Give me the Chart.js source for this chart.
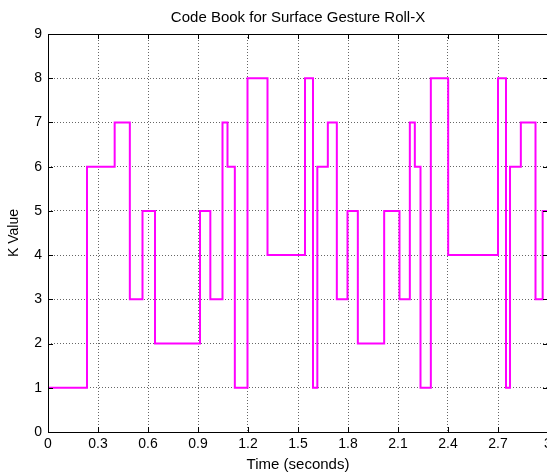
<!DOCTYPE html>
<html>
<head>
<meta charset="utf-8">
<script src="https://cdn.jsdelivr.net/npm/chart.js@4/dist/chart.umd.min.js"></script>
<style>
  html, body { margin: 0; padding: 0; background: #fff; overflow: hidden; }
  #wrap { width: 560px; height: 476px; }
</style>
</head>
<body>
<div id="wrap"><canvas id="codeBook" width="560" height="476"></canvas></div>
<script>
// start time of each code-book step (seconds) and its K value
const stepTimes = [0, 0.234, 0.400, 0.491, 0.567, 0.642, 0.912, 0.974, 1.047, 1.077, 1.121,
  1.197, 1.317, 1.542, 1.590, 1.616, 1.679, 1.733, 1.797, 1.859, 2.017,
  2.109, 2.171, 2.201, 2.235, 2.297, 2.401, 2.700, 2.748, 2.772, 2.837, 2.925, 2.968]
const kValues = [1, 6, 7, 3, 5, 2, 5, 3, 7, 6, 1,
  8, 4, 8, 1, 6, 7, 3, 5, 2, 5,
  3, 7, 6, 1, 8, 4, 8, 1, 6, 7, 3, 5]
const endTime = 3
const xTicks = [0, 0.3, 0.6, 0.9, 1.2, 1.5, 1.8, 2.1, 2.4, 2.7, 3]
const yTicks = [0, 1, 2, 3, 4, 5, 6, 7, 8, 9]

const points = stepTimes.map((t, i) => ({ x: t, y: kValues[i] }))
points.push({ x: endTime, y: kValues[kValues.length - 1] })

Chart.defaults.font.family = "'Liberation Sans', Arial, sans-serif"
Chart.defaults.font.size = 14
Chart.defaults.color = '#000'

// matlab style box with inward tick marks
const boxTicks = {
  id: 'boxTicks',
  afterDraw(chart) {
    const { ctx, chartArea: a, scales } = chart
    ctx.save()
    ctx.strokeStyle = '#000'
    ctx.lineWidth = 1
    ctx.beginPath()
    scales.x.ticks.forEach((t) => {
      const px = Math.round(scales.x.getPixelForValue(t.value)) + 0.5
      ctx.moveTo(px, a.bottom); ctx.lineTo(px, a.bottom - 5)
      ctx.moveTo(px, a.top); ctx.lineTo(px, a.top + 5)
    })
    scales.y.ticks.forEach((t) => {
      const py = Math.round(scales.y.getPixelForValue(t.value)) + 0.5
      ctx.moveTo(a.left, py); ctx.lineTo(a.left + 5, py)
      ctx.moveTo(a.right, py); ctx.lineTo(a.right - 5, py)
    })
    ctx.stroke()
    ctx.strokeRect(Math.round(a.left) + 0.5, Math.round(a.top) + 0.5,
      Math.round(a.right - a.left), Math.round(a.bottom - a.top))
    ctx.restore()
  }
}

new Chart(document.getElementById('codeBook'), {
  type: 'line',
  data: {
    datasets: [{
      data: points,
      stepped: true,
      borderColor: '#ff00ff',
      borderWidth: 2,
      pointRadius: 0,
      fill: false
    }]
  },
  options: {
    responsive: false,
    animation: false,
    layout: { padding: { left: 0, right: 12, top: 0, bottom: 0 } },
    plugins: {
      legend: { display: false },
      tooltip: { enabled: false },
      title: {
        display: true,
        fullSize: false,
        text: 'Code Book for Surface Gesture Roll-X',
        font: { size: 15, weight: 'normal' },
        padding: { top: 9, bottom: 7 }
      }
    },
    scales: {
      x: {
        type: 'linear',
        min: 0,
        max: 3,
        afterBuildTicks: (scale) => { scale.ticks = xTicks.map((v) => ({ value: v })) },
        afterFit: (scale) => { scale.height = 44 },
        ticks: { callback: (v) => String(v), padding: 4, maxRotation: 0, autoSkip: false },
        grid: { color: 'rgba(0,0,0,0.6)', drawTicks: false },
        border: { display: false, dash: [1, 2] },
        title: { display: true, text: 'Time (seconds)', font: { size: 15 }, padding: { top: 0, bottom: 2 } }
      },
      y: {
        min: 0,
        max: 9,
        afterBuildTicks: (scale) => { scale.ticks = yTicks.map((v) => ({ value: v })) },
        afterFit: (scale) => { scale.width = 48 },
        ticks: { padding: 6 },
        grid: { color: 'rgba(0,0,0,0.6)', drawTicks: false },
        border: { display: false, dash: [1, 2] },
        title: { display: true, text: 'K Value', padding: { top: 6, bottom: 0 } }
      }
    }
  },
  plugins: [boxTicks]
})
</script>
</body>
</html>
